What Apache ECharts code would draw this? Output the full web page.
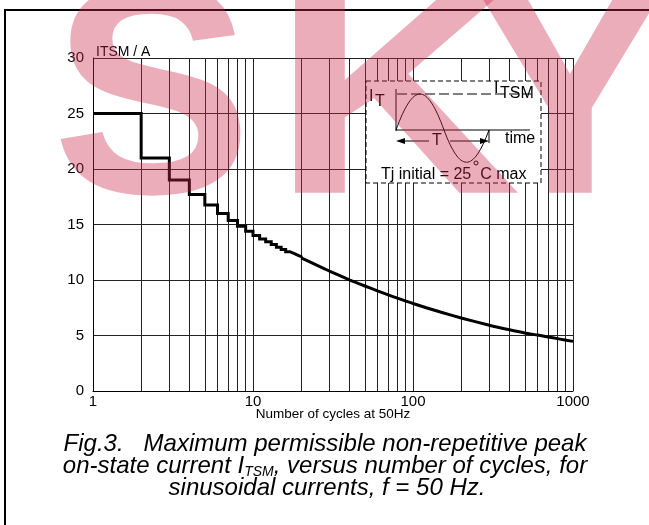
<!DOCTYPE html>
<html>
<head>
<meta charset="utf-8">
<script src="https://cdn.jsdelivr.net/npm/echarts@6/dist/echarts.min.js"></script>
<style>
  html, body { margin: 0; padding: 0; background: #fff; }
  #chart { width: 649px; height: 525px; }
</style>
</head>
<body>
<div id="chart"></div>
<script>
// number of cycles where each step ends, and the surge current for it
var stepCycles = [1, 2, 3, 4, 5, 6, 7, 8, 9, 10, 11, 12, 13, 14, 15, 16, 17, 18, 19, 20];
var stepCurrent = [25, 21, 19, 17.7, 16.75, 16.0, 15.35, 14.85, 14.4, 14.0, 13.7, 13.45, 13.2, 12.95, 12.75, 12.55, 12.4, 12.25, 12.1, 12.0];

// smooth part of the curve
var curveCycles = [20, 25, 30, 40, 50, 60, 70, 80, 100, 150, 200, 300, 400, 500, 600, 700, 800, 1000];
var curveCurrent = [12.0, 11.34, 10.81, 10.02, 9.46, 9.02, 8.66, 8.36, 7.88, 7.09, 6.58, 5.93, 5.52, 5.23, 5.04, 4.87, 4.72, 4.47];

// vertical grid lines between the decades
var minorGrid = [2, 3, 4, 5, 6, 7, 8, 9, 20, 30, 40, 50, 60, 70, 80, 90, 200, 300, 400, 500, 600, 700, 800, 900];

var FONT = '"Liberation Sans", Arial, sans-serif';

function pairs(xs, ys) {
    var out = [];
    for (var i = 0; i < xs.length; i++) out.push([xs[i], ys[i]]);
    return out;
}

// small drawing of the sine pulse in the top right corner
function insetGraphics() {
    var z = 50;
    var ink = { stroke: '#000', lineWidth: 1 };
    var f16 = '16px ' + FONT;
    return [
        { type: 'rect', z: z, silent: true, shape: { x: 366, y: 81, width: 175, height: 102 },
          style: { fill: '#fff', stroke: '#000', lineWidth: 1, lineDash: [5, 3] } },
        { type: 'text', z: z + 1, x: 369, y: 89, style: { text: 'I', font: f16, fill: '#000' } },
        { type: 'text', z: z + 1, x: 375, y: 94, style: { text: 'T', font: f16, fill: '#000' } },
        { type: 'line', z: z + 1, shape: { x1: 396, y1: 89, x2: 396, y2: 131 }, style: ink },
        { type: 'line', z: z + 1, shape: { x1: 397, y1: 94, x2: 531, y2: 94 },
          style: { stroke: '#000', lineWidth: 1, lineDash: [10, 4] } },
        { type: 'text', z: z + 1, x: 494, y: 81, style: { text: 'I', font: f16, fill: '#000' } },
        { type: 'text', z: z + 1, x: 500, y: 86, style: { text: 'TSM', font: f16, fill: '#000' } },
        { type: 'line', z: z + 1, shape: { x1: 396, y1: 130, x2: 530, y2: 130 }, style: ink },
        { type: 'text', z: z + 1, x: 505, y: 131, style: { text: 'time', font: f16, fill: '#000' } },
        { type: 'bezierCurve', z: z + 1, shape: { x1: 396, y1: 130, cpx1: 413.5, cpy1: 82, cpx2: 426.5, cpy2: 82, x2: 444, y2: 130 },
          style: { stroke: '#000', lineWidth: 1, fill: null } },
        { type: 'bezierCurve', z: z + 1, shape: { x1: 444, y1: 130, cpx1: 460, cpy1: 173, cpx2: 473, cpy2: 173, x2: 489, y2: 130 },
          style: { stroke: '#000', lineWidth: 1, fill: null } },
        { type: 'line', z: z + 1, shape: { x1: 400, y1: 141, x2: 429, y2: 141 }, style: ink },
        { type: 'line', z: z + 1, shape: { x1: 450, y1: 141, x2: 486, y2: 141 }, style: ink },
        { type: 'polygon', z: z + 1, shape: { points: [[396, 141], [405, 138], [405, 144]] }, style: { fill: '#000' } },
        { type: 'polygon', z: z + 1, shape: { points: [[489, 141], [480, 138], [480, 144]] }, style: { fill: '#000' } },
        { type: 'text', z: z + 1, x: 437, y: 141, style: { text: 'T', font: f16, fill: '#000', align: 'center', verticalAlign: 'middle' } },
        { type: 'line', z: z + 1, shape: { x1: 489, y1: 130, x2: 489, y2: 143 }, style: ink },
        { type: 'circle', z: z + 1, shape: { cx: 476, cy: 163, r: 2 }, style: { fill: null, stroke: '#000', lineWidth: 1 } },
        { type: 'text', z: z + 1, x: 381, y: 175,
          style: { text: 'Tj initial = 25  C max', font: f16, fill: '#000', verticalAlign: 'middle' } }
    ];
}

var chart = echarts.init(document.getElementById('chart'));

var option = {
    animation: false,
    backgroundColor: '#fff',
    grid: { left: 93, right: 76, top: 58, bottom: 134 },
    xAxis: {
        type: 'log', logBase: 10, min: 1, max: 1000,
        name: 'Number of cycles at 50Hz', nameLocation: 'middle', nameGap: 16, nameMoveOverlap: false,
        nameTextStyle: { fontSize: 13.5, color: '#000', fontFamily: FONT },
        axisLine: { lineStyle: { color: '#000', width: 1 } },
        axisTick: { show: false },
        axisLabel: { fontSize: 15, color: '#000', margin: 3, fontFamily: FONT,
                     formatter: function (v) { return String(v); } },
        splitLine: { show: true, lineStyle: { color: '#222', width: 1 } }
    },
    yAxis: {
        type: 'value', min: 0, max: 30, interval: 5,
        name: 'ITSM / A', nameLocation: 'end', nameGap: -1, nameMoveOverlap: false,
        nameTextStyle: { fontSize: 14, color: '#000', align: 'left', fontFamily: FONT, padding: [0, 0, 0, 3] },
        axisLine: { show: true, lineStyle: { color: '#000', width: 1 } },
        axisTick: { show: false },
        axisLabel: { fontSize: 15, color: '#000', margin: 9, fontFamily: FONT },
        splitLine: { show: true, lineStyle: { color: '#222', width: 1 } }
    },
    series: [
        {
            // only carries the minor grid lines
            type: 'line', data: [], z: 1, silent: true,
            markLine: {
                silent: true, symbol: 'none', animation: false,
                label: { show: false },
                lineStyle: { color: '#222', width: 1, type: 'solid' },
                data: minorGrid.map(function (v) { return { xAxis: v }; })
            }
        },
        {
            type: 'line', step: 'end', z: 5, symbol: 'none',
            data: pairs(stepCycles, stepCurrent),
            lineStyle: { color: '#000', width: 3, join: 'miter' }
        },
        {
            type: 'line', smooth: 0.2, z: 5, symbol: 'none',
            data: pairs(curveCycles, curveCurrent),
            lineStyle: { color: '#000', width: 3 }
        }
    ],
    graphic: [
        // frame round the figure
        { type: 'rect', z: 60, silent: true, shape: { x: 5, y: 10, width: 700, height: 600 },
          style: { fill: null, stroke: '#000', lineWidth: 2 } },
        { type: 'text', z: 60, x: 325, y: 444,
          style: { text: 'Fig.3.   Maximum permissible non-repetitive peak', font: 'italic 24px ' + FONT,
                   fill: '#000', align: 'center', verticalAlign: 'middle' } },
        { type: 'text', z: 60, x: 325, y: 466,
          style: { text: '{a|on-state current I}{s|TSM}{a|, versus number of cycles, for}',
                   align: 'center', verticalAlign: 'middle',
                   rich: {
                       a: { font: 'italic 24px ' + FONT, fill: '#000', lineHeight: 26 },
                       s: { font: 'italic 14px ' + FONT, fill: '#000', lineHeight: 12, verticalAlign: 'bottom' }
                   } } },
        { type: 'text', z: 60, x: 327, y: 488,
          style: { text: 'sinusoidal currents, f = 50 Hz.', font: 'italic 24px ' + FONT,
                   fill: '#000', align: 'center', verticalAlign: 'middle' } }
    ].concat(insetGraphics()).concat([
        // pink watermark laid over everything
        { type: 'text', z: 100, silent: true, x: 52, y: 110,
          style: { text: 'S', font: 'bold 300px ' + FONT, fill: 'rgb(205,40,75)', opacity: 0.38, verticalAlign: 'middle' } },
        { type: 'text', z: 100, silent: true, x: 272, y: 110, scaleX: 1.15,
          style: { text: 'K', font: 'bold 300px ' + FONT, fill: 'rgb(205,40,75)', opacity: 0.38, verticalAlign: 'middle' } },
        { type: 'text', z: 100, silent: true, x: 470, y: 110,
          style: { text: 'Y', font: 'bold 300px ' + FONT, fill: 'rgb(205,40,75)', opacity: 0.38, verticalAlign: 'middle' } }
    ])
};

chart.setOption(option);
</script>
</body>
</html>
